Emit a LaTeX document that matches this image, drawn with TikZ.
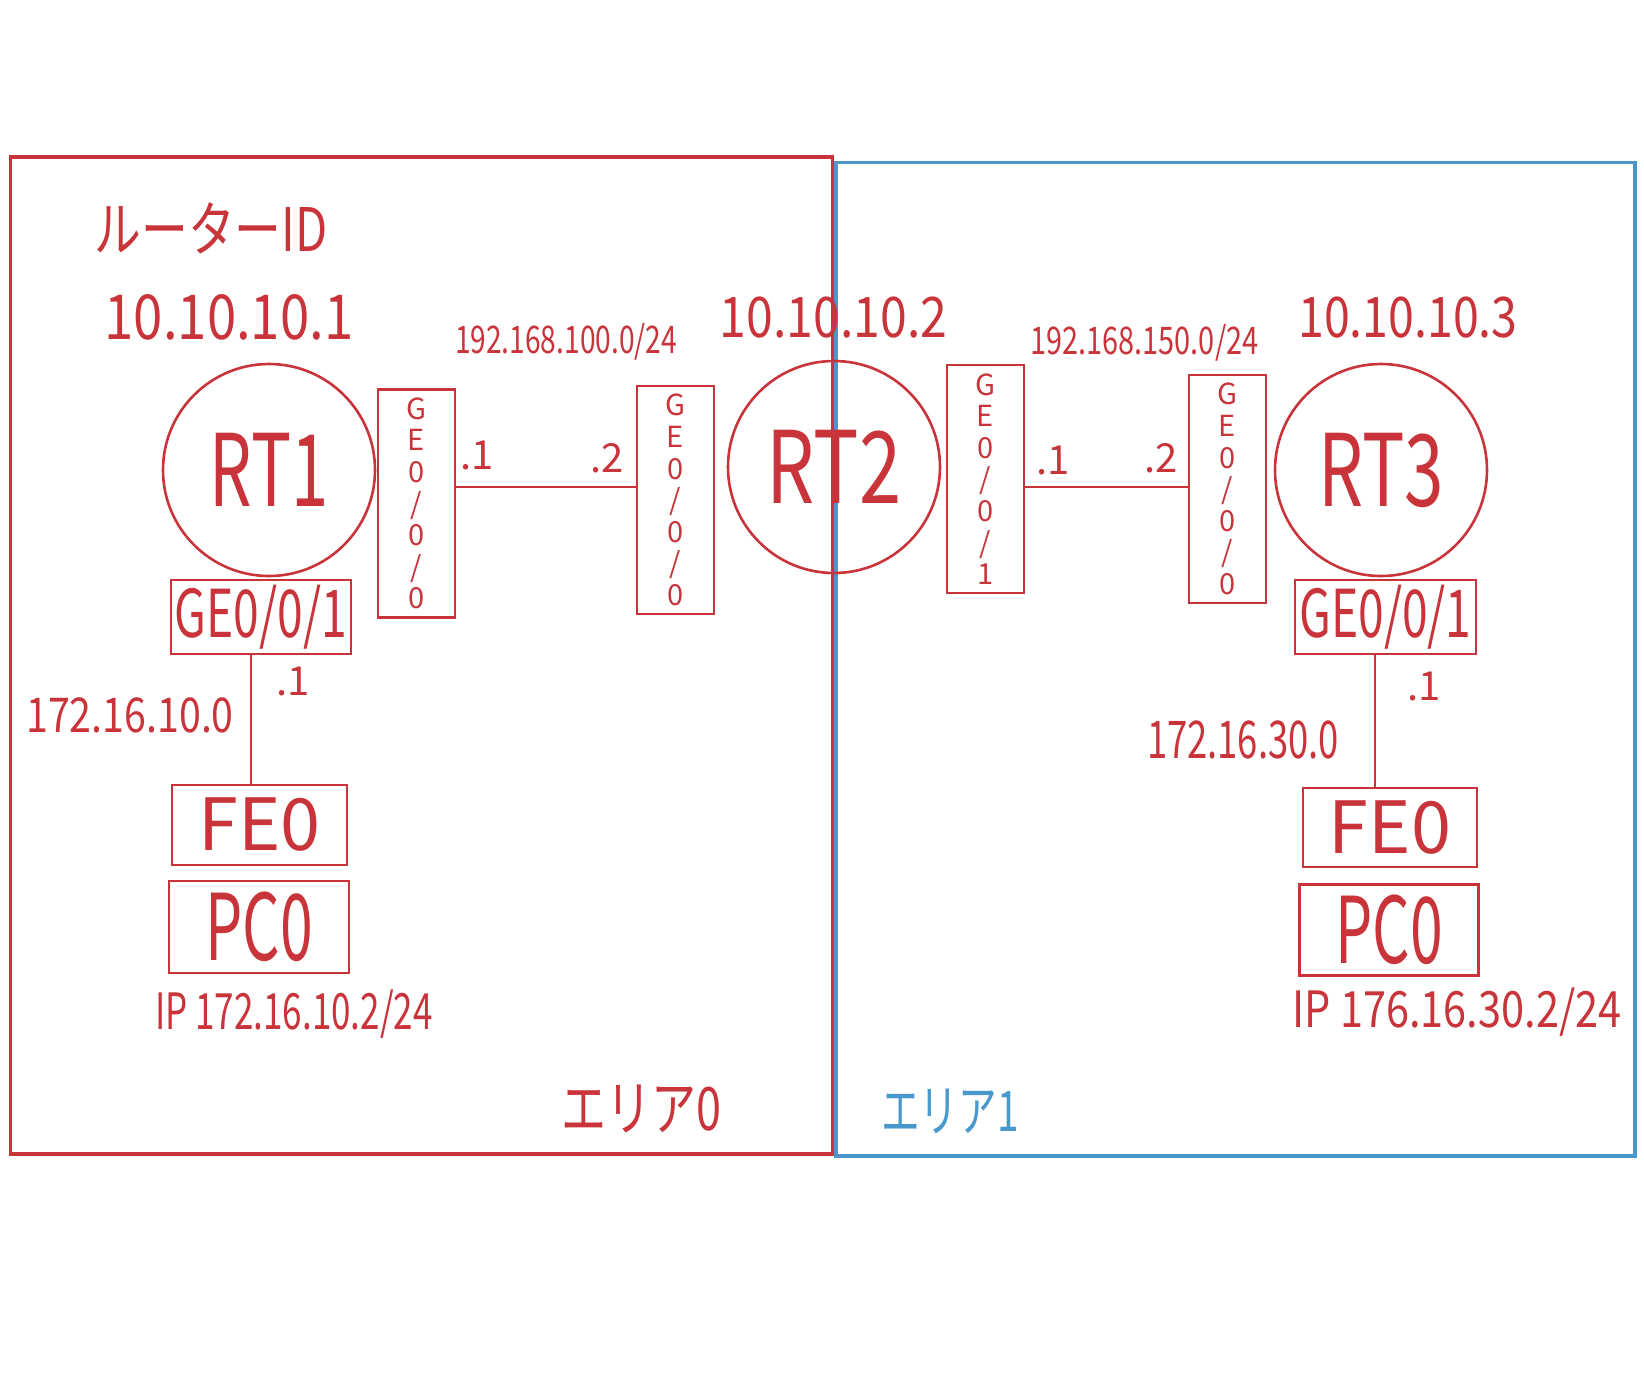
\documentclass[tikz,border=0pt]{standalone}
\usepackage{fontspec}
\setmainfont{Noto Sans CJK JP}
\usepackage{graphicx}
\definecolor{hred}{RGB}{200,52,58}
\definecolor{hblue}{RGB}{72,152,204}
\newcommand{\fs}[1]{\fontsize{#1}{#1}\selectfont}
\newcommand{\sx}[2]{\scalebox{#1}[1]{#2}}
\tikzset{
  router/.style={circle, draw=hred, line width=1.3pt, minimum size=106pt, inner sep=0pt, text=hred, font=\fs{50}},
  vport/.style={rectangle, draw=hred, line width=1.4pt, minimum width=38.5pt, minimum height=114pt, inner sep=0pt, align=center, text=hred, font=\fontsize{14.5}{15.8}\selectfont},
  hbox/.style={rectangle, draw=hred, line width=1.4pt, inner sep=0pt, text=hred},
  lbl/.style={text=hred, inner sep=0pt},
  wire/.style={draw=hred, line width=1.4pt},
  area/.style={line width=1.6pt},
}
\begin{document}
\begin{tikzpicture}[x=0.5pt,y=-0.5pt]
\useasboundingbox (0,0) rectangle (1644,1382);
% areas
\draw[area, draw=hred] (10.5,157) rectangle (832.5,1154);
\draw[area, draw=hblue] (836,162.5) rectangle (1635,1156);
% routers
\node[router] (rt1) at (269,470) {\sx{0.67}{RT1}};
\node[router] (rt2) at (834,467) {\sx{0.76}{RT2}};
\node[router] (rt3) at (1381,470) {\sx{0.71}{RT3}};
% vertical ports
\node[vport] (ge1) at (416.5,503.5) {G\\E\\0\\/\\0\\/\\0};
\node[vport] (ge2) at (675.5,500) {G\\E\\0\\/\\0\\/\\0};
\node[vport] (ge3) at (985.5,479) {G\\E\\0\\/\\0\\/\\1};
\node[vport] (ge4) at (1227.5,489) {G\\E\\0\\/\\0\\/\\0};
% horizontal ports
\node[hbox, minimum width=90pt, minimum height=37pt, font=\fs{33}] (ge5) at (261,617) {\sx{0.70}{GE0/0/1}};
\node[hbox, minimum width=90.5pt, minimum height=37pt, font=\fs{33}] (ge6) at (1385.5,617) {\sx{0.70}{GE0/0/1}};
\node[hbox, minimum width=87.5pt, minimum height=40pt, font=\fs{36}] (fe1) at (259.5,825) {FE0};
\node[hbox, minimum width=90pt, minimum height=46pt, font=\fs{46}] (pc1) at (259,927) {\sx{0.64}{PC0}};
\node[hbox, minimum width=87pt, minimum height=39.5pt, font=\fs{36}] (fe2) at (1390,827.5) {FE0};
\node[hbox, minimum width=89.5pt, minimum height=45.5pt, font=\fs{46}] (pc2) at (1389,930) {\sx{0.64}{PC0}};
% links
\draw[wire] (ge1.east |- 0,487) -- (ge2.west |- 0,487);
\draw[wire] (ge3.east |- 0,487) -- (ge4.west |- 0,487);
\draw[wire] (ge5.south -| 251,0) -- (fe1.north -| 251,0);
\draw[wire] (ge6.south -| 1375,0) -- (fe2.north -| 1375,0);
% labels
\node[lbl, font=\fs{30}] (rid) at (211,228) {\sx{0.78}{ルーターID}};
\node[lbl, font=\fs{31}] (id1) at (229,317) {\sx{0.85}{10.10.10.1}};
\node[lbl, font=\fs{28}] (id2) at (833.5,318) {\sx{0.86}{10.10.10.2}};
\node[lbl, font=\fs{28}] (id3) at (1408,318) {\sx{0.83}{10.10.10.3}};
\node[lbl, font=\fs{19}] (net1) at (566,342) {\sx{0.74}{192.168.100.0/24}};
\node[lbl, font=\fs{19}] (net2) at (1144.5,343) {\sx{0.76}{192.168.150.0/24}};
\node[lbl, font=\fs{20}] (d11) at (477,455) {.1};
\node[lbl, font=\fs{20}] (d12) at (607,458) {.2};
\node[lbl, font=\fs{20}] (d21) at (1053,460) {.1};
\node[lbl, font=\fs{20}] (d22) at (1161,458) {.2};
\node[lbl, font=\fs{20}] (d31) at (293,681) {.1};
\node[lbl, font=\fs{20}] (d41) at (1424,686) {.1};
\node[lbl, font=\fs{24}] (lan1) at (130,715) {\sx{0.82}{172.16.10.0}};
\node[lbl, font=\fs{26}] (lan3) at (1243,740) {\sx{0.70}{172.16.30.0}};
\node[lbl, font=\fs{25}] (ip1) at (294,1014) {\sx{0.70}{IP 172.16.10.2/24}};
\node[lbl, font=\fs{25}] (ip3) at (1457,1012) {\sx{0.83}{IP 176.16.30.2/24}};
\node[lbl, font=\fs{30}] (area0) at (641,1109) {\sx{0.75}{エリア0}};
\node[lbl, text=hblue, font=\fs{28}] (area1) at (950,1111) {\sx{0.69}{エリア1}};
\end{tikzpicture}
\end{document}
